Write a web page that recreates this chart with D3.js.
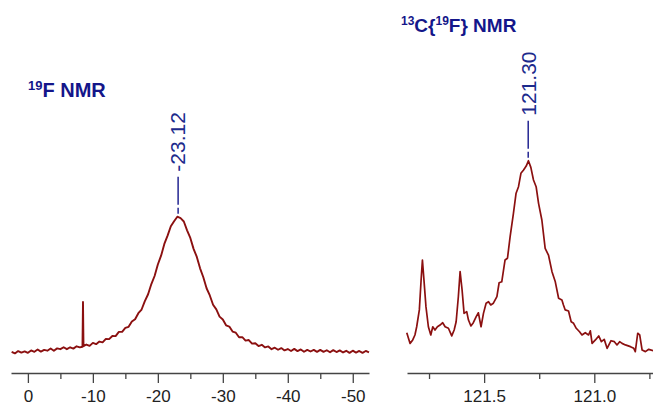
<!DOCTYPE html>
<html>
<head>
<meta charset="utf-8">
<script src="https://cdn.jsdelivr.net/npm/d3@7"></script>
<style>
  body { margin: 0; background: #fff; }
  svg { display: block; }
  .tick text { font-family: "Liberation Sans", Arial, sans-serif; font-size: 17px; fill: #222; }
</style>
</head>
<body>
<svg id="chart" width="653" height="405"></svg>
<script>
// 19F spectrum (ppm, relative intensity)
const fPpm = [2.5, 2.0, 1.5, 1.0, 0.5, 0, -0.5, -1, -1.5, -2, -2.5, -3, -3.5, -4, -4.5, -5, -5.5, -6, -6.5, -7, -7.5, -8,
  -8.4, -8.48, -8.56,
  -9, -9.5, -10, -10.5, -11, -11.5, -12, -12.5, -13, -13.5, -14, -14.5, -15, -15.5, -16, -16.5, -17, -17.5, -18, -18.5,
  -19, -19.5, -20, -20.5, -21, -21.5, -22, -22.5, -23, -23.5, -24, -24.5, -25, -25.5, -26, -26.5, -27, -27.5, -28, -28.5,
  -29, -29.5, -30, -30.5, -31, -31.5, -32, -32.5, -33, -33.5, -34, -34.5, -35, -35.5, -36, -36.5, -37, -37.5, -38, -38.5,
  -39, -39.5, -40, -40.5, -41, -41.5, -42, -42.5, -43, -43.5, -44, -44.5, -45, -45.5, -46, -46.5, -47, -47.5, -48, -48.5,
  -49, -49.5, -50, -50.5, -51, -51.5, -52, -52.5];
const fInt = [0.8, -0.3, 1.4, 0.3, 1.2, 0.1, 1.9, 0.9, 2.6, 1.0, 2.3, 1.7, 3.3, 1.7, 3.4, 2.8, 4.2, 2.8, 4.2, 3.2, 4.9, 4.1,
  4.6, 37.5, 5.0,
  6.2, 5.2, 7.4, 6.5, 8.4, 7.8, 10.3, 10.2, 12.5, 12.4, 15.5, 15.5, 18.4, 19.2, 23.1, 24.8, 29.2, 31.9, 38.0, 43.1,
  50.6, 56.5, 64.9, 71.4, 80.0, 86.1, 93.0, 96.7, 100.0, 98.9, 96.5, 90.0, 84.4, 76.4, 70.5, 62.1, 55.6, 47.5, 42.2, 35.4,
  32.0, 26.7, 24.6, 20.3, 19.4, 15.7, 14.9, 11.6, 11.6, 9.1, 9.5, 6.9, 7.2, 5.1, 6.0, 4.1, 4.8, 2.8, 3.9, 2.4,
  3.6, 1.9, 2.9, 1.5, 3.0, 1.4, 2.6, 0.9, 2.3, 1.1, 2.3, 0.8, 2.3, 0.8, 2.0, 0.5, 2.1, 0.7, 1.9, 0.4,
  1.6, 0.1, 1.7, 0.3, 1.5, 0.1, 1.5, 0.4];

// 13C{19F} spectrum
const cPpm = [121.851, 121.836, 121.824, 121.814, 121.806, 121.794, 121.786, 121.780, 121.773, 121.764, 121.753, 121.742,
  121.733, 121.723, 121.712, 121.700, 121.688, 121.677, 121.662, 121.647, 121.636, 121.627, 121.617, 121.609, 121.600,
  121.591, 121.579, 121.571, 121.560, 121.549, 121.536, 121.526, 121.514, 121.503, 121.491, 121.480, 121.470, 121.458,
  121.442, 121.432, 121.420, 121.405, 121.394, 121.382, 121.367, 121.355, 121.344, 121.333, 121.321, 121.309, 121.299,
  121.288, 121.276, 121.264, 121.253, 121.238, 121.223, 121.208, 121.192, 121.177, 121.162, 121.147, 121.140, 121.132,
  121.117, 121.105, 121.094, 121.082, 121.067, 121.056, 121.041, 121.026, 121.018, 121.010, 120.995, 120.980, 120.968,
  120.955, 120.942, 120.924, 120.909, 120.897, 120.885, 120.874, 120.859, 120.836, 120.821, 120.814, 120.803, 120.794,
  120.783, 120.768, 120.753, 120.733];
const cInt = [10.1, 4.5, 6.3, 8.9, 13.2, 22.0, 37.6, 48.1, 37.6, 23.7, 13.2, 8.9,
  13.2, 11.5, 13.2, 14.1, 15.3, 13.2, 12.4, 8.4, 11.5, 15.8, 28.9, 42.0, 32.4,
  20.2, 21.1, 16.7, 13.6, 15.3, 18.5, 20.5, 13.2, 20.2, 25.5, 26.3, 24.6, 25.5,
  28.9, 36.2, 36.7, 48.1, 49.0, 60.3, 72.5, 83.0, 86.4, 93.4, 95.1, 97.2, 100,
  96.5, 89.9, 86.4, 77.7, 69.0, 54.2, 50.7, 42.0, 36.7, 28.1, 27.2, 24.6, 22.0,
  21.4, 15.8, 15.0, 12.4, 10.6, 8.9, 10.1, 8.9, 11.1, 4.5, 6.3, 8.4, 5.4,
  6.6, 1.9, 5.9, 5.4, 3.7, 5.4, 4.5, 3.7, 2.8, 1.9, 0.2, 9.8, 8.9,
  1.0, 0.2, 1.4, 0.7];

const fTicks = [0, -10, -20, -30, -40, -50];
const fMinor = [-5, -15, -25, -35, -45];
const cTicks = [121.5, 121.0];
const cMinor = [121.75, 121.25, 120.75];

const fPeak = { ppm: -23.12, label: '-23.12' };
const cPeak = { ppm: 121.30, label: '121.30' };

const svg = d3.select('#chart');
const navy = '#14168a';
const specColor = '#8b1010';
const axisY = 373;

function panel(cfg) {
    const x = d3.scaleLinear().domain(cfg.domain).range(cfg.range);
    const y = d3.scaleLinear().domain([0, 100]).range(cfg.yRange);

    // major ticks with labels
    const ax = svg.append('g')
        .attr('transform', `translate(0,${axisY})`)
        .call(d3.axisBottom(x).tickValues(cfg.ticks).tickFormat(cfg.fmt)
            .tickSize(10).tickSizeOuter(0).tickPadding(7));
    ax.select('.domain').attr('stroke', '#444').attr('stroke-width', 1.4);
    ax.selectAll('.tick line').attr('stroke', '#444').attr('stroke-width', 1.3);
    ax.selectAll('.tick text').attr('font-family', null).attr('font-size', null);

    // minor ticks
    const mn = svg.append('g')
        .attr('transform', `translate(0,${axisY})`)
        .call(d3.axisBottom(x).tickValues(cfg.minor).tickFormat('')
            .tickSize(6).tickSizeOuter(0));
    mn.select('.domain').remove();
    mn.selectAll('.tick line').attr('stroke', '#444').attr('stroke-width', 1.3);

    // spectrum
    const pts = cfg.ppm.map((p, i) => [p, cfg.ints[i]]);
    svg.append('path')
        .attr('d', d3.line().x(d => x(d[0])).y(d => y(d[1]))(pts))
        .attr('fill', 'none')
        .attr('stroke', specColor)
        .attr('stroke-width', cfg.lw)
        .attr('stroke-linejoin', 'round');

    // peak label
    const px = x(cfg.peak.ppm);
    const py = y(100);
    svg.append('line')
        .attr('x1', px).attr('x2', px).attr('y1', py - 3).attr('y2', py - 9)
        .attr('stroke', navy).attr('stroke-width', 1.4);
    svg.append('line')
        .attr('x1', px).attr('x2', px).attr('y1', py - 12).attr('y2', py - 40)
        .attr('stroke', navy).attr('stroke-width', 1.4);
    svg.append('text')
        .attr('transform', `translate(${px},${py - 45}) rotate(-90)`)
        .attr('dy', '0.35em')
        .attr('font-family', 'Liberation Sans, Arial, sans-serif')
        .attr('font-size', 21)
        .attr('fill', '#1c2a8c')
        .text(cfg.peak.label);
}

panel({ domain: [2.6, -52.5], range: [11, 369], yRange: [353, 216.7],
    ticks: fTicks, minor: fMinor, fmt: d => String(d),
    ppm: fPpm, ints: fInt, peak: fPeak, lw: 1.9 });

panel({ domain: [121.85, 120.735], range: [407, 652.7], yRange: [352, 160.7],
    ticks: cTicks, minor: cMinor, fmt: d => d.toFixed(1),
    ppm: cPpm, ints: cInt, peak: cPeak, lw: 1.7 });

// titles
const t1 = svg.append('text')
    .attr('x', 28).attr('y', 97)
    .attr('font-family', 'Liberation Sans, Arial, sans-serif')
    .attr('font-weight', 'bold')
    .attr('fill', navy);
t1.append('tspan').attr('font-size', 13).attr('dy', -7).text('19');
t1.append('tspan').attr('font-size', 20).attr('dy', 7).text('F NMR');

const t2 = svg.append('text')
    .attr('x', 401).attr('y', 32)
    .attr('font-family', 'Liberation Sans, Arial, sans-serif')
    .attr('font-weight', 'bold')
    .attr('fill', navy);
t2.append('tspan').attr('font-size', 12).attr('dy', -7).text('13');
t2.append('tspan').attr('font-size', 19).attr('dy', 7).text('C{');
t2.append('tspan').attr('font-size', 12).attr('dy', -7).text('19');
t2.append('tspan').attr('font-size', 19).attr('dy', 7).text('F} NMR');
</script>
</body>
</html>
